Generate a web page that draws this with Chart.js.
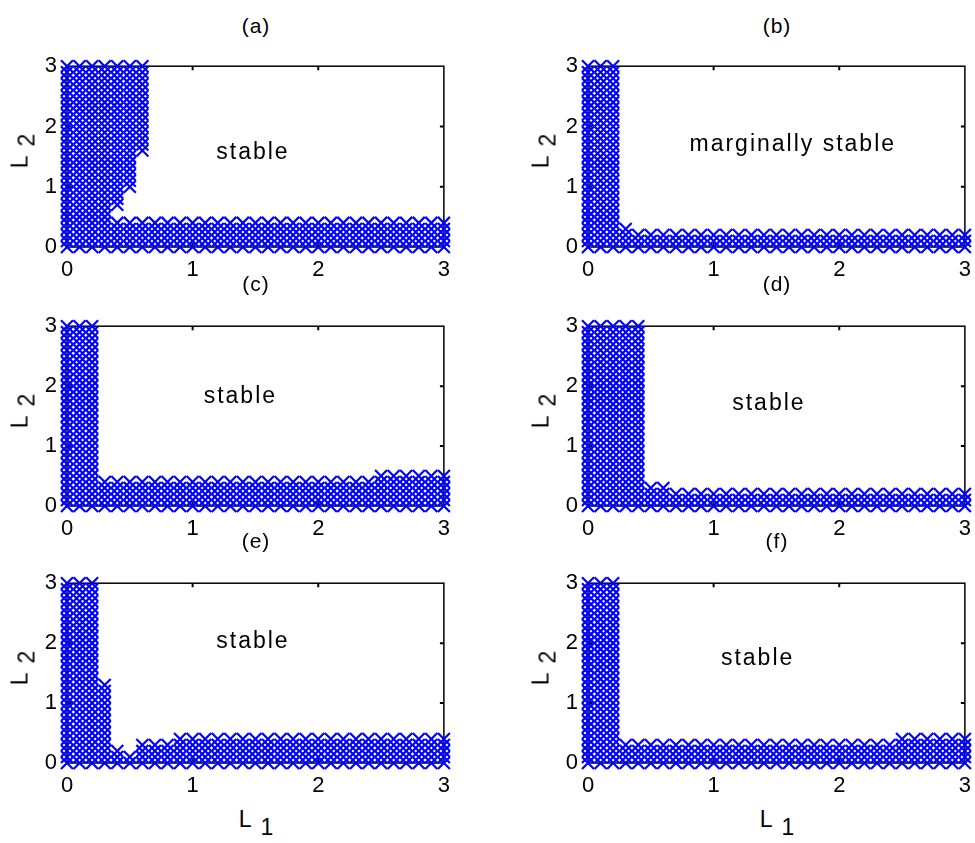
<!DOCTYPE html>
<html>
<head>
<meta charset="utf-8">
<script src="https://cdn.jsdelivr.net/npm/chart.js@4.4.1/dist/chart.umd.min.js"></script>
<style>
  body { margin: 0; background: #fff; }
  #wrap { position: relative; width: 975px; height: 843px; overflow: hidden;
          font-family: "Liberation Sans", Arial, sans-serif; color: #000; }
  #wrap canvas { position: absolute; }
  .lbl { position: absolute; font-size: 21px; white-space: nowrap; line-height: 1; }
  .ylab { transform: translate(-50%, -50%) rotate(-90deg); font-size: 23px; }
  .xlab { transform: translate(-50%, 0); font-size: 23px; }
  .ttl { transform: translate(-50%, -50%); letter-spacing: 1px; }
</style>
</head>
<body>
<div id="wrap"></div>
<script>
// grid of (L1, L2) values that were tested
const L1 = [0, 0.1, 0.2, 0.3, 0.4, 0.5, 0.6, 0.7, 0.8, 0.9, 1, 1.1, 1.2, 1.3, 1.4, 1.5,
            1.6, 1.7, 1.8, 1.9, 2, 2.1, 2.2, 2.3, 2.4, 2.5, 2.6, 2.7, 2.8, 2.9, 3];
const L2 = [0, 0.1, 0.2, 0.3, 0.4, 0.5, 0.6, 0.7, 0.8, 0.9, 1, 1.1, 1.2, 1.3, 1.4, 1.5,
            1.6, 1.7, 1.8, 1.9, 2, 2.1, 2.2, 2.3, 2.4, 2.5, 2.6, 2.7, 2.8, 2.9, 3];
const axisTicks = [0, 1, 2, 3];

// per L1 column: highest L2 of the unstable band starting at L2 = 0
const aLow = [3, 3, 3, 3, 0.4, 0.4, 0.4, 0.4, 0.4, 0.4, 0.4, 0.4, 0.4, 0.4, 0.4, 0.4,
              0.4, 0.4, 0.4, 0.4, 0.4, 0.4, 0.4, 0.4, 0.4, 0.4, 0.4, 0.4, 0.4, 0.4, 0.4];
// per L1 column: lowest L2 of the unstable block reaching L2 = 3 (null = none)
const aUpper = [null, null, null, null, 0.7, 1.0, 1.6, null, null, null, null, null, null, null, null, null,
                null, null, null, null, null, null, null, null, null, null, null, null, null, null, null];
const bLow = [3, 3, 3, 0.3, 0.2, 0.2, 0.2, 0.2, 0.2, 0.2, 0.2, 0.2, 0.2, 0.2, 0.2, 0.2,
              0.2, 0.2, 0.2, 0.2, 0.2, 0.2, 0.2, 0.2, 0.2, 0.2, 0.2, 0.2, 0.2, 0.2, 0.2];
const cLow = [3, 3, 3, 0.4, 0.4, 0.4, 0.4, 0.4, 0.4, 0.4, 0.4, 0.4, 0.4, 0.4, 0.4, 0.4,
              0.4, 0.4, 0.4, 0.4, 0.4, 0.4, 0.4, 0.4, 0.4, 0.5, 0.5, 0.5, 0.5, 0.5, 0.5];
const dLow = [3, 3, 3, 3, 3, 0.3, 0.3, 0.2, 0.2, 0.2, 0.2, 0.2, 0.2, 0.2, 0.2, 0.2,
              0.2, 0.2, 0.2, 0.2, 0.2, 0.2, 0.2, 0.2, 0.2, 0.2, 0.2, 0.2, 0.2, 0.2, 0.2];
const eLow = [3, 3, 3, 1.3, 0.2, 0.1, 0.3, 0.3, 0.3, 0.4, 0.4, 0.4, 0.4, 0.4, 0.4, 0.4,
              0.4, 0.4, 0.4, 0.4, 0.4, 0.4, 0.4, 0.4, 0.4, 0.4, 0.4, 0.4, 0.4, 0.4, 0.4];
const fLow = [3, 3, 3, 0.3, 0.3, 0.3, 0.3, 0.3, 0.3, 0.3, 0.3, 0.3, 0.3, 0.3, 0.3, 0.3,
              0.3, 0.3, 0.3, 0.3, 0.3, 0.3, 0.3, 0.3, 0.3, 0.4, 0.4, 0.4, 0.4, 0.4, 0.4];

const panelTitles = ['(a)', '(b)', '(c)', '(d)', '(e)', '(f)'];
const panelNotes = ['stable', 'marginally stable', 'stable', 'stable', 'stable', 'stable'];
const noteAt = [[1.48, 1.56], [1.63, 1.70], [1.38, 1.82], [1.44, 1.70], [1.48, 2.03], [1.35, 1.74]];

// layout of the 3x2 grid (plot area in page pixels)
const colLeft = [67, 588];
const rowTop = [55, 315, 572];
const plotW = 378;
const plotH = [192, 191, 191];
const titleY = [25, 283, 540];
const padL = 55, padT = 12, padR = 15, padB = 35;

function unstable(low, upper) {
  const pts = [];
  L1.forEach((x, i) => {
    L2.forEach(y => {
      const inLow = y <= low[i] + 1e-6;
      const inUp = upper && upper[i] !== null && y >= upper[i] - 1e-6;
      if (inLow || inUp) pts.push({ x: x, y: y });
    });
  });
  return pts;
}

// box with small inward ticks, drawn under the markers
const boxPlugin = {
  id: 'box',
  beforeDatasetsDraw(chart) {
    const { ctx, chartArea: a, scales } = chart;
    ctx.save();
    ctx.strokeStyle = '#000';
    ctx.lineWidth = 1.5;
    ctx.strokeRect(a.left, a.top, a.right - a.left, a.bottom - a.top);
    ctx.lineWidth = 2;
    [1, 2].forEach(v => {
      const px = scales.x.getPixelForValue(v);
      const py = scales.y.getPixelForValue(v);
      ctx.beginPath();
      ctx.moveTo(px, a.top); ctx.lineTo(px, a.top + 4);
      ctx.moveTo(px, a.bottom); ctx.lineTo(px, a.bottom - 4);
      ctx.moveTo(a.left, py); ctx.lineTo(a.left + 4, py);
      ctx.moveTo(a.right, py); ctx.lineTo(a.right - 4, py);
      ctx.stroke();
    });
    ctx.restore();
  }
};

// region note ("stable") placed at data coordinates
const notePlugin = {
  id: 'note',
  afterDatasetsDraw(chart, args, opts) {
    const { ctx, scales } = chart;
    ctx.save();
    ctx.font = '23px "Liberation Sans", Arial, sans-serif';
    ctx.letterSpacing = '2px';
    ctx.fillStyle = '#000';
    ctx.textAlign = 'center';
    ctx.textBaseline = 'middle';
    ctx.fillText(opts.text, scales.x.getPixelForValue(opts.x), scales.y.getPixelForValue(opts.y));
    ctx.restore();
  }
};

const wrap = document.getElementById('wrap');
const lows = [aLow, bLow, cLow, dLow, eLow, fLow];
const uppers = [aUpper, null, null, null, null, null];

function addLabel(cls, html, left, top) {
  const d = document.createElement('div');
  d.className = 'lbl ' + cls;
  d.innerHTML = html;
  d.style.left = left + 'px';
  d.style.top = top + 'px';
  wrap.appendChild(d);
}

lows.forEach((low, k) => {
  const r = Math.floor(k / 2), c = k % 2;
  const left = colLeft[c], top = rowTop[r], h = plotH[r];

  const cv = document.createElement('canvas');
  cv.width = plotW + padL + padR;
  cv.height = h + padT + padB;
  cv.style.left = (left - padL) + 'px';
  cv.style.top = (top - padT) + 'px';
  wrap.appendChild(cv);

  const tickFont = { family: '"Liberation Sans", Arial, sans-serif', size: 22 };
  new Chart(cv.getContext('2d'), {
    type: 'scatter',
    data: {
      datasets: [{
        data: unstable(low, uppers[k]),
        pointStyle: 'crossRot',
        pointRadius: 8.5,
        pointBorderWidth: 2.2,
        pointBorderColor: '#0000ff',
        pointBackgroundColor: 'rgba(0,0,0,0)',
        clip: false
      }]
    },
    options: {
      responsive: false,
      animation: false,
      devicePixelRatio: 1,
      events: [],
      layout: { padding: { left: 0, top: padT, right: padR, bottom: 0 } },
      plugins: {
        legend: { display: false },
        tooltip: { enabled: false },
        note: { text: panelNotes[k], x: noteAt[k][0], y: noteAt[k][1] }
      },
      scales: {
        x: {
          type: 'linear', min: 0, max: 3,
          afterBuildTicks: s => { s.ticks = axisTicks.map(v => ({ value: v })); },
          afterFit: s => { s.height = padB; },
          grid: { display: false, drawTicks: false },
          border: { display: false },
          ticks: { color: '#000', font: tickFont, padding: 10, maxRotation: 0 }
        },
        y: {
          type: 'linear', min: 0, max: 3,
          afterBuildTicks: s => { s.ticks = axisTicks.map(v => ({ value: v })); },
          afterFit: s => { s.width = padL; },
          grid: { display: false, drawTicks: false },
          border: { display: false },
          ticks: { color: '#000', font: tickFont, padding: 10 }
        }
      }
    },
    plugins: [boxPlugin, notePlugin]
  });

  addLabel('ttl', panelTitles[k], left + plotW / 2, titleY[r]);
  addLabel('ylab', 'L<span style="position:relative;top:7px;margin-left:9px">2</span>',
           left - 47, top + h / 2);
  if (r === 2) {
    addLabel('xlab', 'L<span style="position:relative;top:8px;margin-left:9px">1</span>',
             left + plotW / 2, top + h + 45);
  }
});
</script>
</body>
</html>
